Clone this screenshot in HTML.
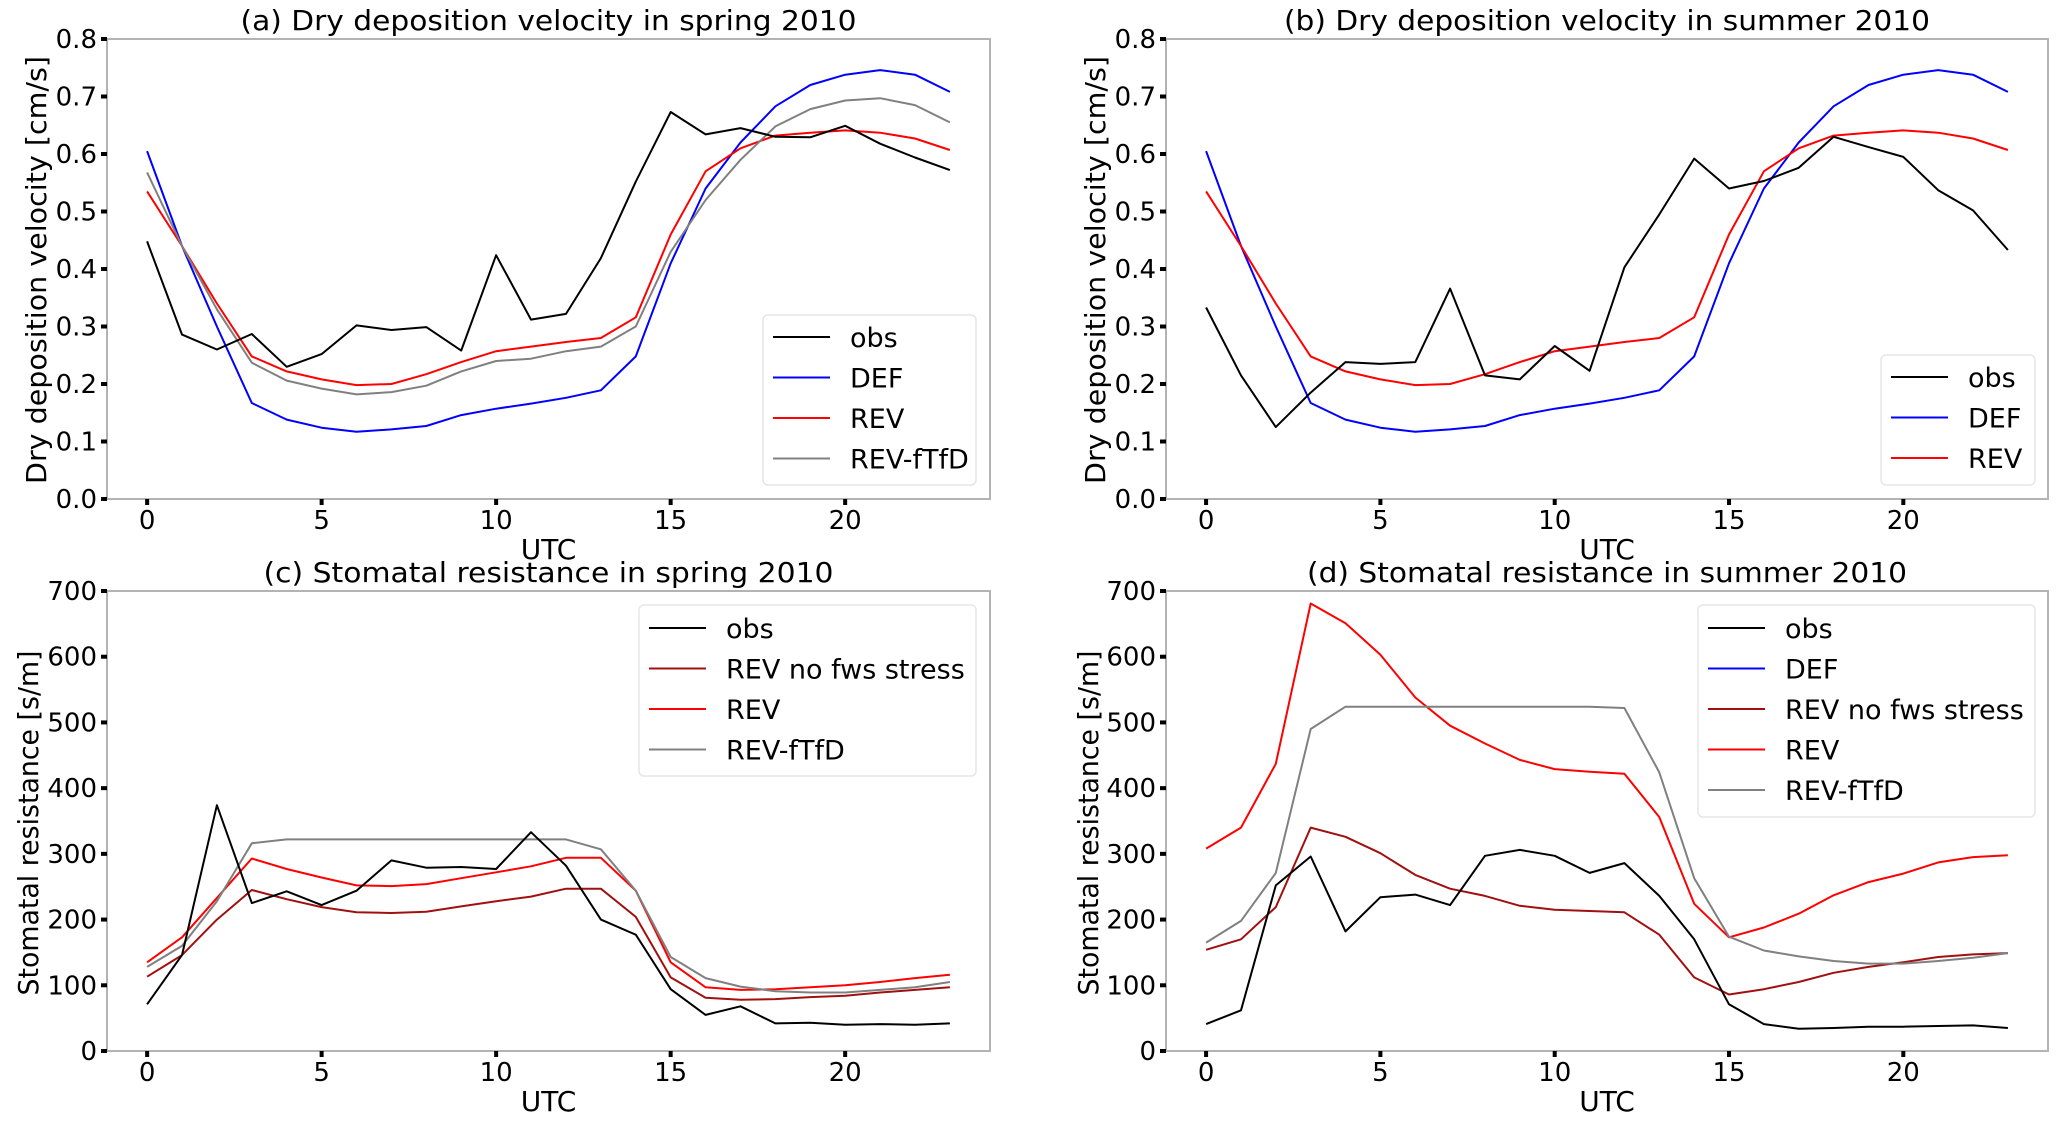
<!DOCTYPE html>
<html><head><meta charset="utf-8"><style>
html,body{margin:0;padding:0;background:#fff;width:2067px;height:1122px;overflow:hidden}
svg text{font-family:"DejaVu Sans","Liberation Sans",sans-serif;fill:#000}
</style></head><body>
<svg id="fig" width="2067" height="1122" viewBox="0 0 2067 1122" xmlns="http://www.w3.org/2000/svg"></svg>
<script>
const hours = [0,1,2,3,4,5,6,7,8,9,10,11,12,13,14,15,16,17,18,19,20,21,22,23];
const xTicks = [0,5,10,15,20];
const vdTicks = [0.0,0.1,0.2,0.3,0.4,0.5,0.6,0.7,0.8];
const vdTickLabels = ["0.0","0.1","0.2","0.3","0.4","0.5","0.6","0.7","0.8"];
const rsTicks = [0,100,200,300,400,500,600,700];
const rsTickLabels = ["0","100","200","300","400","500","600","700"];

const aObs = [0.448,0.286,0.26,0.287,0.23,0.252,0.302,0.294,0.299,0.258,0.424,0.312,0.322,0.419,0.552,0.673,0.634,0.645,0.63,0.629,0.649,0.618,0.594,0.572];
const aDef = [0.605,0.44,0.3,0.167,0.138,0.124,0.117,0.121,0.127,0.146,0.157,0.166,0.176,0.189,0.248,0.41,0.54,0.62,0.683,0.72,0.738,0.746,0.738,0.708];
const aRev = [0.535,0.44,0.34,0.248,0.222,0.208,0.198,0.2,0.217,0.238,0.257,0.265,0.273,0.28,0.316,0.46,0.57,0.61,0.632,0.637,0.641,0.637,0.627,0.607];
const aFtfd = [0.568,0.44,0.33,0.237,0.206,0.192,0.182,0.186,0.197,0.222,0.24,0.244,0.257,0.265,0.3,0.43,0.52,0.59,0.648,0.678,0.693,0.697,0.685,0.655];

const bObs = [0.333,0.215,0.125,0.185,0.238,0.235,0.238,0.366,0.215,0.208,0.266,0.223,0.403,0.495,0.592,0.54,0.553,0.576,0.63,0.612,0.595,0.537,0.502,0.433];
const bDef = [0.605,0.44,0.3,0.167,0.138,0.124,0.117,0.121,0.127,0.146,0.157,0.166,0.176,0.189,0.248,0.41,0.54,0.62,0.683,0.72,0.738,0.746,0.738,0.708];
const bRev = [0.535,0.44,0.34,0.248,0.222,0.208,0.198,0.2,0.217,0.238,0.257,0.265,0.273,0.28,0.316,0.46,0.57,0.61,0.632,0.637,0.641,0.637,0.627,0.607];

const cObs = [71,146,374,225,243,222,244,290,279,280,277,333,282,200,177,94,55,68,42,43,40,41,40,42];
const cNoFws = [113,146,200,245,231,219,211,210,212,220,228,235,247,247,204,112,81,78,79,82,84,89,93,97];
const cRev = [135,173,233,293,277,264,252,251,254,263,272,281,294,294,244,135,97,93,94,97,100,105,111,116];
const cFtfd = [128,160,228,316,322,322,322,322,322,322,322,322,322,307,244,143,111,98,91,89,89,93,97,105];

const dObs = [41,62,252,296,182,234,238,222,297,306,297,271,286,236,170,71,41,34,35,37,37,38,39,35];
const dNoFws = [154,170,219,340,326,301,268,247,236,221,215,213,211,177,112,86,94,105,119,128,135,143,147,149];
const dRev = [308,340,437,681,651,603,538,495,468,443,429,425,422,356,224,173,188,209,237,257,270,287,295,298];
const dFtfd = [165,198,271,490,524,524,524,524,524,524,524,524,522,424,263,174,153,144,137,133,133,137,142,149];

const NS = "http://www.w3.org/2000/svg";
const fig = document.getElementById('fig');
function mk(tag, parent){ const e = document.createElementNS(NS, tag); parent.appendChild(e); return e; }

function panel(cfg){
  const g = mk('g', fig);
  
  
  const L = cfg.left, R = cfg.right, T = cfg.top, B = cfg.bottom;
  const pxh = (R - L) / 25.3;
  const x0 = L + 1.15 * pxh;
  const xs = v => x0 + v * pxh;
  const ys = v => B - (v - cfg.ymin) / (cfg.ymax - cfg.ymin) * (B - T);

  cfg.series.forEach(s => {
    const p = mk('polyline', g);
    p.setAttribute('points', hours.map((h,i)=>xs(h).toFixed(1)+','+ys(s.data[i]).toFixed(1)).join(' '));
    p.setAttribute('fill','none');
    p.setAttribute('stroke', s.color);
    p.setAttribute('stroke-width','2');
    p.setAttribute('stroke-linejoin','round');
    
    
  });

  const fr = mk('rect', g);
  fr.setAttribute('x', L); fr.setAttribute('y', T);
  fr.setAttribute('width', R-L); fr.setAttribute('height', B-T);
  fr.setAttribute('fill','none'); fr.setAttribute('stroke','#b3b3b3'); fr.setAttribute('stroke-width','2');
  
  

  xTicks.forEach(t => {
    const l = mk('line', g);
    l.setAttribute('x1', xs(t)); l.setAttribute('x2', xs(t));
    l.setAttribute('y1', B); l.setAttribute('y2', B+6);
    l.setAttribute('stroke','#000'); l.setAttribute('stroke-width','4');
    
    
    const tx = mk('text', g);
    tx.setAttribute('x', xs(t)); tx.setAttribute('y', B+30);
    tx.setAttribute('text-anchor','middle'); tx.setAttribute('font-size','26');
    tx.textContent = String(t);
    
    
  });
  cfg.yTicks.forEach((t,i) => {
    const l = mk('line', g);
    l.setAttribute('x1', L-6); l.setAttribute('x2', L);
    l.setAttribute('y1', ys(t)); l.setAttribute('y2', ys(t));
    l.setAttribute('stroke','#000'); l.setAttribute('stroke-width','4');
    
    
    const tx = mk('text', g);
    tx.setAttribute('x', L-10); tx.setAttribute('y', ys(t)+9);
    tx.setAttribute('text-anchor','end'); tx.setAttribute('font-size','26');
    tx.textContent = cfg.yLabels[i];
    
    
  });
  const ti = mk('text', g);
  ti.setAttribute('x', (L+R)/2); ti.setAttribute('y', T-9);
  ti.setAttribute('text-anchor','middle'); ti.setAttribute('font-size','28');
  ti.setAttribute('textLength', cfg.titleLen); ti.setAttribute('lengthAdjust','spacingAndGlyphs');
  ti.textContent = cfg.title;
  
  
  const xl = mk('text', g);
  xl.setAttribute('x', (L+R)/2); xl.setAttribute('y', B+60);
  xl.setAttribute('text-anchor','middle'); xl.setAttribute('font-size','28');
  xl.textContent = 'UTC';
  
  
  const yl = mk('text', g);
  yl.setAttribute('transform', 'translate('+cfg.ylabX+','+cfg.ylabY+') rotate(-90)');
  yl.setAttribute('text-anchor','middle'); yl.setAttribute('font-size','28');
  yl.setAttribute('textLength', cfg.ylabLen); yl.setAttribute('lengthAdjust','spacingAndGlyphs');
  yl.textContent = cfg.ylab;
  
  
  const lg = cfg.legend;
  const lgG = mk('g', g);
  
  
  const box = mk('rect', lgG);
  box.setAttribute('x', lg.x); box.setAttribute('y', lg.y);
  box.setAttribute('width', lg.w); box.setAttribute('height', lg.h);
  box.setAttribute('rx','5'); box.setAttribute('fill','#fff'); box.setAttribute('fill-opacity','0.8');
  box.setAttribute('stroke','#e6e6e6'); box.setAttribute('stroke-width','1.5');
  
  
  lg.entries.forEach((e,i) => {
    const yy = lg.firstY + i * lg.step;
    const ln = mk('line', lgG);
    ln.setAttribute('x1', lg.x+10); ln.setAttribute('x2', lg.x+67);
    ln.setAttribute('y1', yy); ln.setAttribute('y2', yy);
    ln.setAttribute('stroke', e.color); ln.setAttribute('stroke-width','2');
    
    
    const tx = mk('text', lgG);
    tx.setAttribute('x', lg.x+87); tx.setAttribute('y', yy+10);
    tx.setAttribute('font-size','27');
    tx.textContent = e.label;
    
    
  });
}

const C = {obs:'#000', def:'#0000ff', rev:'#ff0000', ftfd:'#808080', nofws:'#a01010'};

panel({name:'panel-a', left:107, right:990, top:39, bottom:499, ymin:0, ymax:0.8,
  yTicks:vdTicks, yLabels:vdTickLabels,
  title:'(a) Dry deposition velocity in spring 2010', titleLen:616,
  ylab:'Dry deposition velocity [cm/s]', ylabX:46, ylabY:270, ylabLen:428,
  series:[{key:'def',data:aDef,color:C.def},{key:'rev',data:aRev,color:C.rev},{key:'ftfd',data:aFtfd,color:C.ftfd},{key:'obs',data:aObs,color:C.obs}],
  legend:{x:763,y:315,w:213,h:170,firstY:337,step:40.5,entries:[{label:'obs',color:C.obs},{label:'DEF',color:C.def},{label:'REV',color:C.rev},{label:'REV-fTfD',color:C.ftfd}]}
});
panel({name:'panel-b', left:1166, right:2048, top:39, bottom:499, ymin:0, ymax:0.8,
  yTicks:vdTicks, yLabels:vdTickLabels,
  title:'(b) Dry deposition velocity in summer 2010', titleLen:646,
  ylab:'Dry deposition velocity [cm/s]', ylabX:1105, ylabY:270, ylabLen:428,
  series:[{key:'def',data:bDef,color:C.def},{key:'rev',data:bRev,color:C.rev},{key:'obs',data:bObs,color:C.obs}],
  legend:{x:1881,y:355,w:154,h:130,firstY:377,step:40.5,entries:[{label:'obs',color:C.obs},{label:'DEF',color:C.def},{label:'REV',color:C.rev}]}
});
panel({name:'panel-c', left:107, right:990, top:591, bottom:1051, ymin:0, ymax:700,
  yTicks:rsTicks, yLabels:rsTickLabels,
  title:'(c) Stomatal resistance in spring 2010', titleLen:570,
  ylab:'Stomatal resistance [s/m]', ylabX:38, ylabY:823, ylabLen:345,
  series:[{key:'nofws',data:cNoFws,color:C.nofws},{key:'rev',data:cRev,color:C.rev},{key:'ftfd',data:cFtfd,color:C.ftfd},{key:'obs',data:cObs,color:C.obs}],
  legend:{x:639,y:605,w:337,h:171,firstY:628,step:40.5,entries:[{label:'obs',color:C.obs},{label:'REV no fws stress',color:C.nofws},{label:'REV',color:C.rev},{label:'REV-fTfD',color:C.ftfd}]}
});
panel({name:'panel-d', left:1166, right:2048, top:591, bottom:1051, ymin:0, ymax:700,
  yTicks:rsTicks, yLabels:rsTickLabels,
  title:'(d) Stomatal resistance in summer 2010', titleLen:600,
  ylab:'Stomatal resistance [s/m]', ylabX:1098, ylabY:823, ylabLen:345,
  series:[{key:'nofws',data:dNoFws,color:C.nofws},{key:'rev',data:dRev,color:C.rev},{key:'ftfd',data:dFtfd,color:C.ftfd},{key:'obs',data:dObs,color:C.obs}],
  legend:{x:1698,y:605,w:337,h:212,firstY:628,step:40.5,entries:[{label:'obs',color:C.obs},{label:'DEF',color:C.def},{label:'REV no fws stress',color:C.nofws},{label:'REV',color:C.rev},{label:'REV-fTfD',color:C.ftfd}]}
});
</script>
</body></html>
